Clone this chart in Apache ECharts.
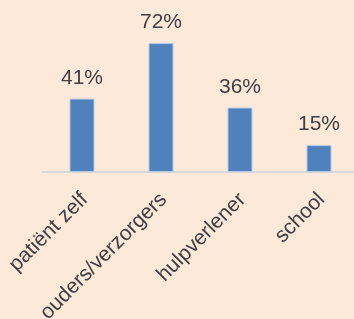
<!DOCTYPE html>
<html>
<head>
<meta charset="utf-8">
<script src="https://cdn.jsdelivr.net/npm/echarts@6/dist/echarts.min.js"></script>
<style>
  html, body { margin: 0; padding: 0; background: #FDE9D9; }
  #chart { width: 354px; height: 319px; }
</style>
</head>
<body>
<div id="chart"></div>
<script>
// categorieën en percentages
var categories = ["patiënt zelf", "ouders/verzorgers", "hulpverlener", "school"];
var values = [41, 72, 36, 15];

var myChart = echarts.init(document.getElementById("chart"));
myChart.setOption({
  backgroundColor: "#FDE9D9",
  textStyle: { fontFamily: "Liberation Sans, Arial, sans-serif" },
  grid: {
    left: 42.5,
    right: -4.5,
    top: 28.8,
    bottom: 147,
    outerBoundsMode: "none",
    containLabel: false
  },
  xAxis: {
    type: "category",
    data: categories,
    axisLine: { lineStyle: { color: "#D9D9D9", width: 2 } },
    axisTick: { show: false },
    axisLabel: {
      interval: 0,
      rotate: 45,
      align: "right",
      verticalAlign: "top",
      margin: 12,
      padding: [0, 7, 0, 0],
      color: "#404040",
      fontSize: 21,
      hideOverlap: false
    }
  },
  yAxis: {
    type: "value",
    min: 0,
    max: 80,
    show: false,
    splitLine: { show: false }
  },
  series: [
    {
      type: "bar",
      data: values,
      barWidth: 25,
      itemStyle: { color: "#4F81BD", borderColor: "#B4C7E2", borderWidth: 1 },
      label: {
        show: true,
        position: "top",
        distance: 10,
        formatter: "{c}%",
        color: "#404040",
        fontSize: 21
      }
    }
  ]
});
</script>
</body>
</html>
